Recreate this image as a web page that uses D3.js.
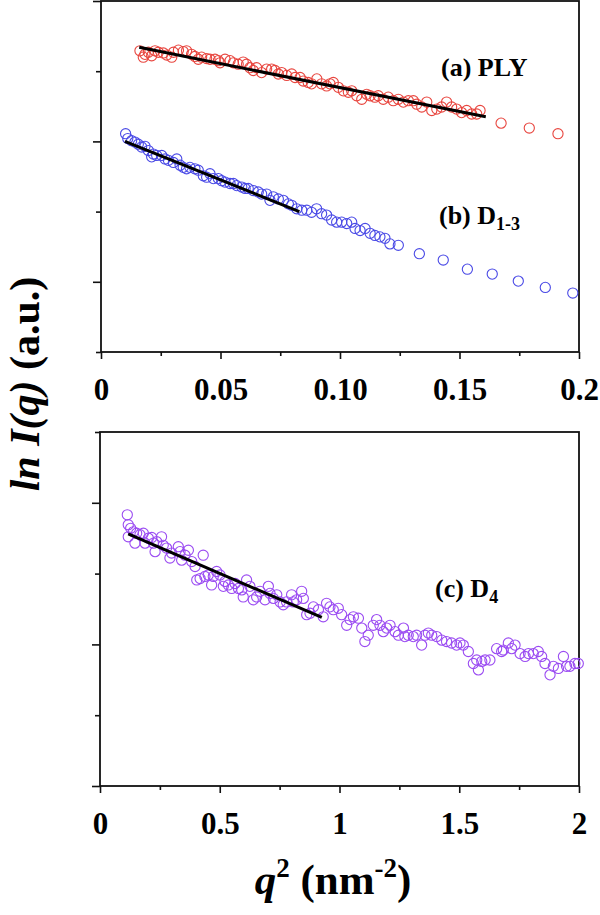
<!DOCTYPE html>
<html>
<head>
<meta charset="utf-8">
<script src="https://cdnjs.cloudflare.com/ajax/libs/d3/7.8.5/d3.min.js"></script>
<style>
  body { margin: 0; background: #fff; }
  svg text { font-family: "Liberation Serif", "Times New Roman", serif; font-weight: bold; fill: #000; }
</style>
</head>
<body>
<svg width="600" height="915"></svg>
<script>
// (a) PLY
var plyQ2 = [0.0163,0.0177,0.0184,0.0198,0.0212,0.0226,0.0240,0.0261,0.0275,0.0296,
  0.0303,0.0324,0.0344,0.0358,0.0379,0.0393,0.0407,0.0421,0.0442,0.0456,
  0.0477,0.0491,0.0498,0.0519,0.0540,0.0554,0.0574,0.0595,0.0609,0.0623,
  0.0637,0.0651,0.0672,0.0693,0.0714,0.0728,0.0742,0.0756,0.0777,0.0798,
  0.0812,0.0833,0.0846,0.0867,0.0881,0.0903,0.0923,0.0944,0.0958,0.0972,
  0.0993,0.1014,0.1035,0.1049,0.1070,0.1091,0.1112,0.1126,0.1146,0.1160,
  0.1181,0.1202,0.1223,0.1244,0.1265,0.1286,0.1307,0.1321,0.1342,0.1363,
  0.1384,0.1405,0.1425,0.1446,0.1467,0.1488,0.1509,0.1530,0.1551,0.1572,
  0.1586,0.1674,0.1792,0.1912];
var plyLnI = [3.29,3.20,3.24,3.27,3.22,3.29,3.27,3.26,3.23,3.20,
  3.27,3.30,3.28,3.29,3.24,3.21,3.17,3.20,3.18,3.17,
  3.17,3.15,3.12,3.17,3.15,3.12,3.10,3.13,3.10,3.05,
  3.01,3.05,2.98,3.03,3.03,3.01,2.96,2.98,2.94,2.96,
  2.91,2.91,2.86,2.84,2.82,2.89,2.82,2.79,2.82,2.84,
  2.77,2.72,2.70,2.72,2.65,2.60,2.67,2.65,2.63,2.65,
  2.60,2.63,2.58,2.60,2.56,2.58,2.58,2.53,2.49,2.56,
  2.44,2.46,2.49,2.56,2.49,2.46,2.41,2.44,2.39,2.39,
  2.44,2.26,2.19,2.11];
var plyFitQ2 = [0.016, 0.161];
var plyFitLnI = [3.34, 2.35];

// (b) D1-3
var d13Q2 = [0.0103,0.0112,0.0128,0.0142,0.0156,0.0170,0.0184,0.0198,0.0212,0.0219,
  0.0233,0.0254,0.0268,0.0282,0.0303,0.0317,0.0331,0.0344,0.0358,0.0372,
  0.0393,0.0407,0.0428,0.0442,0.0456,0.0470,0.0491,0.0505,0.0519,0.0540,
  0.0554,0.0568,0.0589,0.0603,0.0616,0.0637,0.0658,0.0672,0.0693,0.0707,
  0.0721,0.0742,0.0763,0.0784,0.0798,0.0819,0.0840,0.0861,0.0881,0.0902,
  0.0923,0.0944,0.0965,0.0986,0.1007,0.1028,0.1049,0.1063,0.1084,0.1105,
  0.1126,0.1146,0.1167,0.1188,0.1209,0.1244,
  0.1332,0.1432,0.1533,0.1637,0.1746,0.1859,0.1974];
var d13LnI = [2.11,2.04,2.01,1.99,1.96,1.92,1.93,1.87,1.78,1.82,
  1.80,1.80,1.75,1.73,1.70,1.75,1.66,1.63,1.61,1.63,
  1.61,1.59,1.51,1.49,1.54,1.47,1.47,1.44,1.42,1.40,
  1.40,1.37,1.35,1.33,1.33,1.30,1.28,1.25,1.25,1.16,
  1.21,1.18,1.16,1.11,1.09,1.04,1.02,1.02,0.99,1.04,
  0.97,0.95,0.88,0.85,0.85,0.83,0.85,0.76,0.73,0.76,
  0.69,0.66,0.64,0.62,0.54,0.52,
  0.40,0.31,0.18,0.11,0.01,-0.08,-0.16];
var d13FitQ2 = [0.010, 0.083];
var d13FitLnI = [2.00, 1.00];

// (c) D4
var d4Q2 = [0.114,0.118,0.128,0.139,0.118,0.146,0.153,0.167,0.181,0.188,
  0.202,0.216,0.223,0.237,0.230,0.257,0.264,0.278,0.292,0.299,
  0.327,0.334,0.341,0.355,0.369,0.383,0.397,0.404,0.418,0.431,
  0.438,0.452,0.466,0.473,0.487,0.501,0.515,0.522,0.536,0.550,
  0.564,0.578,0.592,0.598,0.612,0.626,0.640,0.654,0.668,0.689,
  0.703,0.710,0.724,0.738,0.752,0.765,0.779,0.800,0.807,0.821,
  0.842,0.849,0.863,0.877,0.891,0.912,0.932,0.946,0.960,0.974,
  0.995,1.009,1.030,1.044,1.058,1.079,1.093,1.106,1.120,1.141,
  1.155,1.169,1.183,1.197,1.211,1.232,1.246,1.267,1.273,1.287,
  1.308,1.322,1.343,1.357,1.371,1.385,1.406,1.427,1.447,1.468,
  1.489,1.503,1.517,1.538,1.559,1.573,1.580,1.594,1.608,1.628,
  1.656,1.677,1.684,1.705,1.719,1.733,1.754,1.775,1.789,1.809,
  1.830,1.844,1.858,1.879,1.893,1.914,1.935,1.948,1.962,1.983,
  1.997];
var d4LnI = [3.83,3.69,3.64,3.59,3.52,3.43,3.57,3.55,3.57,3.43,
  3.50,3.51,3.43,3.45,3.31,3.52,3.40,3.36,3.22,3.29,
  3.38,3.31,3.19,3.26,3.33,3.17,3.10,2.91,2.93,3.26,
  2.96,2.98,2.84,2.96,3.03,2.98,2.82,2.89,2.84,2.79,
  2.86,2.79,2.77,2.67,2.91,2.82,2.63,2.67,2.75,2.63,
  2.82,2.72,2.65,2.70,2.60,2.56,2.60,2.70,2.60,2.63,
  2.75,2.65,2.42,2.44,2.53,2.49,2.39,2.58,2.53,2.49,
  2.51,2.42,2.27,2.35,2.39,2.37,2.23,2.04,2.13,2.27,
  2.35,2.27,2.18,2.23,2.27,2.18,2.13,2.23,2.11,2.13,
  2.11,2.13,1.99,2.13,2.16,2.13,2.11,2.06,2.04,2.02,
  1.99,2.02,1.99,1.90,1.73,1.78,1.64,1.76,1.78,1.78,
  1.94,1.90,1.92,2.02,1.94,1.99,1.87,1.83,1.87,1.87,
  1.90,1.83,1.73,1.57,1.69,1.66,1.83,1.69,1.69,1.73,
  1.73];
var d4FitQ2 = [0.118, 0.926];
var d4FitLnI = [3.56, 2.38];

// axes
var topTicks = [0, 0.05, 0.10, 0.15, 0.2];
var topTickLabels = ["0", "0.05", "0.10", "0.15", "0.2"];
var topMinor = [0.025, 0.075, 0.125, 0.175];
var bottomTicks = [0, 0.5, 1, 1.5, 2];
var bottomTickLabels = ["0", "0.5", "1", "1.5", "2"];
var bottomMinor = [0.25, 0.75, 1.25, 1.75];

var svg = d3.select("svg");

function drawPanel(opts) {
    var x = d3.scaleLinear().domain(opts.xDomain).range([opts.left, opts.right]);
    var y = d3.scaleLinear().domain(opts.yDomain).range([opts.bottom, opts.top]);
    var g = svg.append("g");

    // frame
    g.append("rect")
        .attr("x", opts.left).attr("y", opts.top)
        .attr("width", opts.right - opts.left)
        .attr("height", opts.bottom - opts.top)
        .attr("fill", "none").attr("stroke", "#111").attr("stroke-width", 1.8);

    var xAxis = g.append("g")
        .attr("transform", "translate(0," + opts.bottom + ")")
        .call(d3.axisBottom(x).tickValues(opts.ticks).tickSize(7)
            .tickFormat(function (d, i) { return opts.tickLabels[i]; }));
    xAxis.selectAll("text").attr("dy", null).attr("y", 48).style("font-size", "31px");
    g.append("g")
        .attr("transform", "translate(0," + opts.bottom + ")")
        .call(d3.axisBottom(x).tickValues(opts.minor).tickSize(4).tickFormat(""));

    var yMajor = d3.range(opts.yDomain[0], opts.yDomain[1] + 1).filter(function (v) { return v % 2 === 0; });
    var yMinor = d3.range(opts.yDomain[0], opts.yDomain[1] + 1).filter(function (v) { return v % 2 !== 0; });
    g.append("g")
        .attr("transform", "translate(" + opts.left + ",0)")
        .call(d3.axisLeft(y).tickValues(yMajor).tickSize(8).tickFormat(""));
    g.append("g")
        .attr("transform", "translate(" + opts.left + ",0)")
        .call(d3.axisLeft(y).tickValues(yMinor).tickSize(5).tickFormat(""));

    g.selectAll(".domain").remove();
    g.selectAll(".tick line").attr("stroke", "#111").attr("stroke-width", 1.6);

    opts.series.forEach(function (s) {
        g.append("g")
            .selectAll("circle")
            .data(d3.zip(s.q2, s.lnI))
            .enter()
            .append("circle")
            .attr("cx", function (d) { return x(d[0]); })
            .attr("cy", function (d) { return y(d[1]); })
            .attr("r", 5.1)
            .attr("fill", "none")
            .attr("stroke", s.color)
            .attr("stroke-width", 1.1);

        g.append("path")
            .datum(d3.zip(s.fitQ2, s.fitLnI))
            .attr("d", d3.line().x(function (d) { return x(d[0]); }).y(function (d) { return y(d[1]); }))
            .attr("stroke", "#000")
            .attr("stroke-width", 3)
            .attr("fill", "none");

        var t = g.append("text")
            .attr("x", s.labelX).attr("y", s.labelY)
            .style("font-size", "26px");
        t.append("tspan").text(s.label);
        if (s.sub) {
            t.append("tspan").attr("dy", 6).style("font-size", "18px").text(s.sub);
        }
    });
}

drawPanel({
    left: 101, right: 579, top: 1, bottom: 352,
    xDomain: [0, 0.2], yDomain: [-1, 4],
    ticks: topTicks, tickLabels: topTickLabels, minor: topMinor,
    series: [
        { q2: plyQ2, lnI: plyLnI, fitQ2: plyFitQ2, fitLnI: plyFitLnI, color: "#e8463f",
          label: "(a) PLY", labelX: 441, labelY: 76 },
        { q2: d13Q2, lnI: d13LnI, fitQ2: d13FitQ2, fitLnI: d13FitLnI, color: "#4a4ae6",
          label: "(b) D", sub: "1-3", labelX: 439, labelY: 224 }
    ]
});

drawPanel({
    left: 100, right: 579, top: 432, bottom: 786,
    xDomain: [0, 2], yDomain: [0, 5],
    ticks: bottomTicks, tickLabels: bottomTickLabels, minor: bottomMinor,
    series: [
        { q2: d4Q2, lnI: d4LnI, fitQ2: d4FitQ2, fitLnI: d4FitLnI, color: "#9b4cf2",
          label: "(c) D", sub: "4", labelX: 435, labelY: 597 }
    ]
});

// axis titles
var yTitle = svg.append("text")
    .attr("transform", "translate(39,384) rotate(-90)")
    .attr("text-anchor", "middle")
    .style("font-size", "42px");
yTitle.append("tspan").style("font-style", "italic").text("ln I(q)");
yTitle.append("tspan").text(" (a.u.)");

var xTitle = svg.append("text")
    .attr("x", 333).attr("y", 894)
    .attr("text-anchor", "middle")
    .style("font-size", "43px");
xTitle.append("tspan").style("font-style", "italic").text("q");
xTitle.append("tspan").attr("dy", -17).style("font-size", "27px").text("2");
xTitle.append("tspan").attr("dy", 17).text(" (nm");
xTitle.append("tspan").attr("dy", -17).style("font-size", "27px").text("-2");
xTitle.append("tspan").attr("dy", 17).text(")");
</script>
</body>
</html>
